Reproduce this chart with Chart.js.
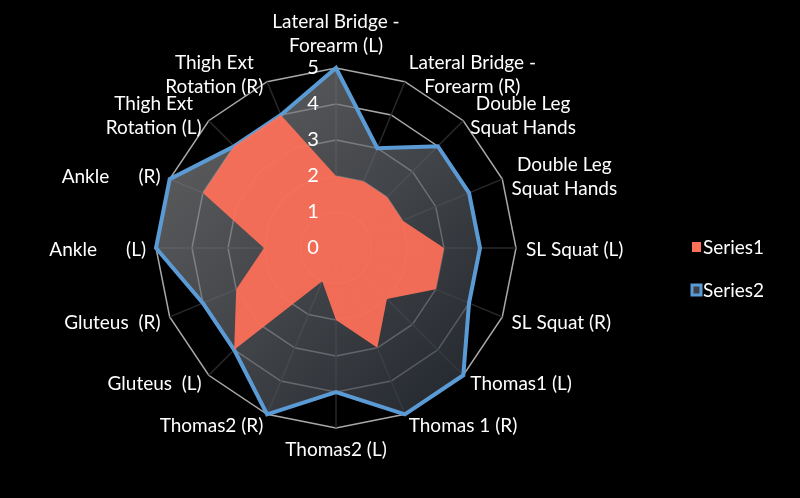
<!DOCTYPE html>
<html>
<head>
<meta charset="utf-8">
<script src="https://cdn.jsdelivr.net/npm/chart.js@4.4.1/dist/chart.umd.min.js"></script>
<style>
  html, body { margin: 0; padding: 0; background: #000; }
  #wrap { width: 800px; height: 498px; position: relative; }
</style>
</head>
<body>
<div id="wrap"><canvas id="radar"></canvas></div>
<script>
// categories, clockwise from the top
var categories = [
  ['Lateral Bridge -', 'Forearm (L)'],
  ['Lateral Bridge -', 'Forearm (R)'],
  ['Double Leg', 'Squat Hands'],
  ['Double Leg', 'Squat Hands'],
  'SL Squat (L)',
  'SL Squat (R)',
  'Thomas1 (L)',
  'Thomas 1 (R)',
  'Thomas2 (L)',
  'Thomas2 (R)',
  'Gluteus  (L)',
  'Gluteus  (R)',
  'Ankle      (L)',
  'Ankle      (R)',
  ['Thigh Ext', 'Rotation (L)'],
  ['Thigh Ext', 'Rotation (R)']
];

var series1 = [2, 2, 2, 2, 3, 3, 2, 3, 2, 1, 4, 3, 2, 4, 4, 4];
var series2 = [5, 3, 4, 4, 4, 4, 5, 5, 4, 5, 4, 4, 5, 5, 4, 4];

var tickValues = [0, 1, 2, 3, 4, 5];

var FONT = "Lato, 'Open Sans', sans-serif";

function series2Fill(context) {
  var chart = context.chart;
  var area = chart.chartArea;
  if (!area) return 'rgba(90,90,95,0.6)';
  var scale = chart.scales.r;
  var cx = scale.xCenter, cy = scale.yCenter, r = scale.drawingArea;
  var g = chart.ctx.createLinearGradient(cx - r * 0.7, cy - r * 0.7, cx + r * 0.7, cy + r * 0.7);
  g.addColorStop(0, 'rgba(125,125,128,0.72)');
  g.addColorStop(0.5, 'rgba(90,94,100,0.72)');
  g.addColorStop(1, 'rgba(52,58,66,0.75)');
  return g;
}

// tick numbers sit just left of the vertical axis
var tickLabels = {
  id: 'tickLabels',
  afterDatasetsDraw: function(chart) {
    var scale = chart.scales.r;
    var ctx = chart.ctx;
    ctx.save();
    ctx.font = '20px ' + FONT;
    ctx.fillStyle = '#ffffff';
    ctx.textAlign = 'center';
    ctx.textBaseline = 'middle';
    for (var i = 0; i < tickValues.length; i++) {
      var d = scale.getDistanceFromCenterForValue(tickValues[i]);
      ctx.fillText(String(tickValues[i]), scale.xCenter - 23, scale.yCenter - d);
    }
    ctx.restore();
  }
};

// category labels placed like Excel does: centred vertically on the spoke
var spokeLabels = {
  id: 'spokeLabels',
  afterDraw: function(chart) {
    var scale = chart.scales.r;
    var ctx = chart.ctx;
    var lineH = 24;
    var n = chart.data.labels.length;
    ctx.save();
    ctx.font = '19px ' + FONT;
    ctx.fillStyle = '#ffffff';
    ctx.textBaseline = 'middle';
    ctx.textAlign = 'center';
    for (var i = 0; i < n; i++) {
      var lines = [].concat(chart.data.labels[i]);
      var p = scale.getPointPosition(i, scale.drawingArea + 10);
      var w = 0;
      for (var k = 0; k < lines.length; k++) w = Math.max(w, ctx.measureText(lines[k]).width);
      var h = lines.length * lineH;
      var cx, top;
      var dx = p.x - scale.xCenter;
      if (i === 0) {
        cx = p.x; top = p.y - h;
      } else if (i === n / 2) {
        cx = p.x; top = p.y;
      } else {
        cx = dx > 0 ? p.x + w / 2 : p.x - w / 2;
        top = p.y - h / 2 + 2;
      }
      for (var k = 0; k < lines.length; k++) {
        ctx.fillText(lines[k], cx, top + lineH * (k + 0.5));
      }
    }
    ctx.restore();
  }
};

// small legend on the right, Excel style
var sideLegend = {
  id: 'sideLegend',
  afterDraw: function(chart) {
    var ctx = chart.ctx;
    var ds = chart.data.datasets;
    var x = 692, y0 = 247, step = 43;
    ctx.save();
    ctx.font = '19px ' + FONT;
    ctx.textBaseline = 'middle';
    ctx.textAlign = 'left';
    for (var i = 0; i < ds.length; i++) {
      var y = y0 + i * step;
      if (i === 0) {
        ctx.fillStyle = '#ff7058';
        ctx.fillRect(x, y - 5, 9, 10);
      } else {
        ctx.fillStyle = '#3d4046';
        ctx.fillRect(x, y - 5, 9, 10);
        ctx.strokeStyle = '#5b9bd5';
        ctx.lineWidth = 3;
        ctx.strokeRect(x, y - 5, 9, 10);
      }
      ctx.fillStyle = '#ffffff';
      ctx.fillText(ds[i].label, x + 11, y + 1);
    }
    ctx.restore();
  }
};

var canvas = document.getElementById('radar');
canvas.width = 800;
canvas.height = 498;

new Chart(canvas, {
  type: 'radar',
  data: {
    labels: categories,
    datasets: [{
      label: 'Series1',
      data: series1,
      backgroundColor: 'rgba(255,112,88,0.93)',
      borderWidth: 0,
      pointRadius: 0,
      fill: true,
      clip: false
    }, {
      label: 'Series2',
      data: series2,
      backgroundColor: series2Fill,
      borderColor: '#5b9bd5',
      borderWidth: 4,
      pointRadius: 0,
      fill: true,
      clip: false
    }]
  },
  options: {
    responsive: false,
    animation: false,
    devicePixelRatio: 1,
    layout: { padding: { left: 2, top: 68, bottom: 70, right: 130 } },
    elements: { line: { tension: 0, borderJoinStyle: 'miter' } },
    scales: {
      r: {
        min: 0,
        max: 5,
        ticks: { stepSize: 1, display: false },
        grid: { color: '#a8a8a8', lineWidth: 1.5 },
        angleLines: { color: 'rgba(45,45,48,0.9)', lineWidth: 1.5 },
        pointLabels: { display: false }
      }
    },
    plugins: {
      tooltip: { enabled: false },
      legend: { display: false }
    }
  },
  plugins: [tickLabels, spokeLabels, sideLegend]
});
</script>
</body>
</html>
